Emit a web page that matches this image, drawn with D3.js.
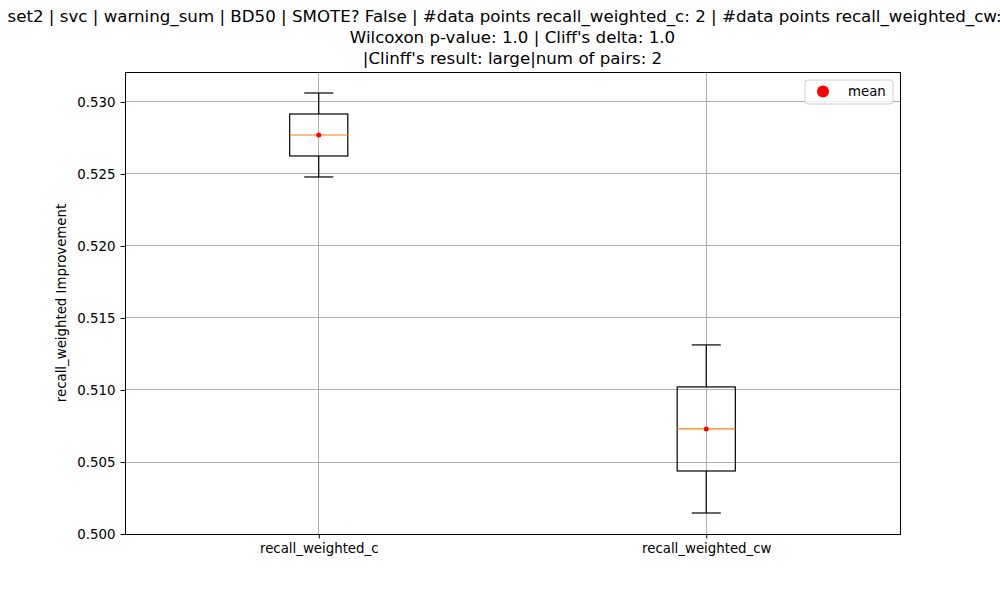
<!DOCTYPE html>
<html>
<head>
<meta charset="utf-8">
<script src="https://cdn.jsdelivr.net/npm/d3@7"></script>
<style>
  body { margin: 0; background: #fff; }
  svg { font-family: "DejaVu Sans", sans-serif; display: block; }
</style>
</head>
<body>
<svg id="chart" width="1000" height="600"></svg>
<script>
// data (two points per group)
var groups = ["recall_weighted_c", "recall_weighted_cw"];
var valuesC = [0.52479, 0.53062];
var valuesCW = [0.50146, 0.51313];
var yTicks = [0.500, 0.505, 0.510, 0.515, 0.520, 0.525, 0.530];
var titleLines = [
  "set2 | svc | warning_sum | BD50 | SMOTE? False | #data points recall_weighted_c: 2 | #data points recall_weighted_cw: 2",
  "Wilcoxon p-value: 1.0 | Cliff's delta: 1.0",
  "|Clinff's result: large|num of pairs: 2"
];

var svg = d3.select("#chart");
var mLeft = 125, mRight = 900, mTop = 72, mBottom = 534;

var series = [valuesC, valuesCW];
var stats = series.map(function(v, i) {
  var s = v.slice().sort(d3.ascending);
  return {
    name: groups[i],
    pos: i + 1,
    lo: s[0], hi: s[s.length - 1],
    q1: d3.quantile(s, 0.25), med: d3.quantile(s, 0.5), q3: d3.quantile(s, 0.75),
    mean: d3.mean(s)
  };
});

// matplotlib-like 5% margins
var ymin = d3.min(stats, function(d) { return d.lo; });
var ymax = d3.max(stats, function(d) { return d.hi; });
var pad = (ymax - ymin) * 0.05;

var x = d3.scaleLinear().domain([0.5, 2.5]).range([mLeft, mRight]);
var y = d3.scaleLinear().domain([ymin - pad, ymax + pad]).range([mBottom, mTop]);

// grid
var grid = svg.append("g").attr("shape-rendering", "crispEdges");
grid.selectAll(".gy").data(yTicks).enter().append("line")
  .attr("x1", mLeft).attr("x2", mRight)
  .attr("y1", function(d) { return y(d); }).attr("y2", function(d) { return y(d); })
  .attr("stroke", "#b0b0b0").attr("stroke-width", 1);
grid.selectAll(".gx").data(stats).enter().append("line")
  .attr("x1", function(d) { return x(d.pos); }).attr("x2", function(d) { return x(d.pos); })
  .attr("y1", mTop).attr("y2", mBottom)
  .attr("stroke", "#b0b0b0").attr("stroke-width", 1);

// boxes
var bw = 0.075, cw = 0.0375;
var box = svg.selectAll(".box").data(stats).enter().append("g");
box.append("line")
  .attr("x1", function(d) { return x(d.pos); }).attr("x2", function(d) { return x(d.pos); })
  .attr("y1", function(d) { return y(d.q3); }).attr("y2", function(d) { return y(d.hi); })
  .attr("stroke", "#000").attr("stroke-width", 1.2);
box.append("line")
  .attr("x1", function(d) { return x(d.pos); }).attr("x2", function(d) { return x(d.pos); })
  .attr("y1", function(d) { return y(d.q1); }).attr("y2", function(d) { return y(d.lo); })
  .attr("stroke", "#000").attr("stroke-width", 1.2);
box.append("line")
  .attr("x1", function(d) { return x(d.pos - cw); }).attr("x2", function(d) { return x(d.pos + cw); })
  .attr("y1", function(d) { return y(d.hi); }).attr("y2", function(d) { return y(d.hi); })
  .attr("stroke", "#000").attr("stroke-width", 1.2);
box.append("line")
  .attr("x1", function(d) { return x(d.pos - cw); }).attr("x2", function(d) { return x(d.pos + cw); })
  .attr("y1", function(d) { return y(d.lo); }).attr("y2", function(d) { return y(d.lo); })
  .attr("stroke", "#000").attr("stroke-width", 1.2);
box.append("rect")
  .attr("x", function(d) { return x(d.pos - bw); })
  .attr("width", function(d) { return x(d.pos + bw) - x(d.pos - bw); })
  .attr("y", function(d) { return y(d.q3); })
  .attr("height", function(d) { return y(d.q1) - y(d.q3); })
  .attr("fill", "none").attr("stroke", "#000").attr("stroke-width", 1.2);
box.append("line")
  .attr("x1", function(d) { return x(d.pos - bw); }).attr("x2", function(d) { return x(d.pos + bw); })
  .attr("y1", function(d) { return y(d.med); }).attr("y2", function(d) { return y(d.med); })
  .attr("stroke", "#ff7f0e").attr("stroke-width", 1.2);
box.append("circle")
  .attr("cx", function(d) { return x(d.pos); }).attr("cy", function(d) { return y(d.mean); })
  .attr("r", 2.5).attr("fill", "red");

// axes frame
svg.append("rect").attr("x", mLeft).attr("y", mTop)
  .attr("width", mRight - mLeft).attr("height", mBottom - mTop)
  .attr("fill", "none").attr("stroke", "#000").attr("stroke-width", 1)
  .attr("shape-rendering", "crispEdges");

var yAxis = svg.append("g").attr("transform", "translate(" + mLeft + ",0)")
  .call(d3.axisLeft(y).tickValues(yTicks).tickFormat(d3.format(".3f")).tickSizeOuter(0).tickSize(4.5).tickPadding(5));
var xAxis = svg.append("g").attr("transform", "translate(0," + mBottom + ")")
  .call(d3.axisBottom(x).tickValues([1, 2]).tickFormat(function(d) { return groups[d - 1]; }).tickSizeOuter(0).tickSize(4.5).tickPadding(5));
[yAxis, xAxis].forEach(function(a) {
  a.select(".domain").remove();
  a.selectAll("text").attr("font-size", "13.33px").attr("fill", "#000").attr("font-family", "DejaVu Sans, sans-serif");
  a.selectAll("line").attr("stroke", "#000");
});

svg.append("text")
  .attr("transform", "translate(66," + ((mTop + mBottom) / 2) + ") rotate(-90)")
  .attr("text-anchor", "middle").attr("font-size", "13.33px")
  .text("recall_weighted Improvement");

// title
svg.selectAll(".title").data(titleLines).enter().append("text")
  .attr("x", (mLeft + mRight) / 2)
  .attr("y", function(d, i) { return 22 + i * 21; })
  .attr("text-anchor", "middle").attr("font-size", "16.67px")
  .text(function(d) { return d; });

// legend
var lg = svg.append("g").attr("transform", "translate(805,80)");
lg.append("rect").attr("width", 88).attr("height", 24).attr("rx", 3)
  .attr("fill", "#fff").attr("fill-opacity", 0.8).attr("stroke", "#d0d0d0");
lg.append("circle").attr("cx", 18).attr("cy", 11.5).attr("r", 6).attr("fill", "red");
lg.append("text").attr("x", 43).attr("y", 16).attr("font-size", "13.33px").text("mean");
</script>
</body>
</html>
